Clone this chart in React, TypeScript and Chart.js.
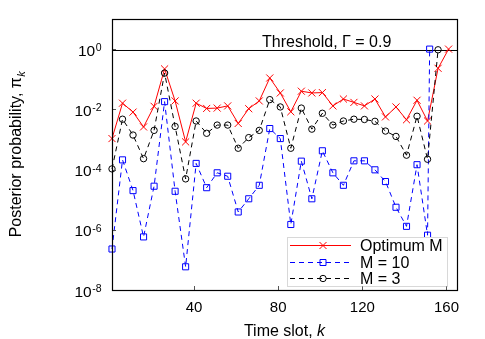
import React, { useEffect, useRef } from "react";
import { Chart, registerables } from "chart.js";

Chart.register(...registerables);

// ---------- data ----------
const slotsOptimum = [1, 6, 11, 16, 21, 26, 31, 36, 41, 46, 51, 56, 61, 66, 71, 76, 81, 86, 91, 96, 101, 106, 111, 116, 121, 126, 131, 136, 141, 146, 151, 156, 161];
const optimumM = [1.07e-3, 1.6e-2, 8.1e-3, 2.6e-3, 1.26e-2, 0.22, 1.9e-2, 8.3e-4, 1.6e-2, 1.07e-2, 1.1e-2, 1.3e-2, 3.4e-3, 1.05e-2, 1.9e-2, 0.11, 3.5e-2, 8.3e-3, 4.0e-2, 3.5e-2, 3.6e-2, 1.3e-2, 2.2e-2, 1.7e-2, 1.3e-2, 2.2e-2, 5.6e-3, 1.2e-2, 4.5e-3, 2.0e-2, 4.1e-3, 0.23, 1.0];

const slotsM10 = [1, 6, 11, 16, 21, 26, 31, 36, 41, 46, 51, 56, 61, 66, 71, 76, 81, 86, 91, 96, 101, 106, 111, 116, 121, 126, 131, 136, 141, 146, 151, 152];
const m10 = [2.3e-7, 2.1e-4, 2.0e-5, 5.8e-7, 2.8e-5, 1.8e-2, 1.9e-5, 5.9e-8, 1.6e-4, 2.5e-5, 7.8e-5, 6.0e-5, 3.9e-6, 1.07e-5, 3.0e-5, 2.3e-3, 1.07e-3, 1.5e-6, 1.9e-4, 1.07e-5, 4.2e-4, 7.8e-5, 3.0e-5, 1.95e-4, 1.95e-4, 9.8e-5, 4.0e-5, 5.6e-6, 1.3e-6, 1.45e-4, 6.6e-7, 1.0];

const slotsM3 = [1, 6, 11, 16, 21, 26, 31, 36, 41, 46, 51, 56, 61, 66, 71, 76, 81, 86, 91, 96, 101, 106, 111, 116, 121, 126, 131, 136, 141, 146, 151, 156];
const m3 = [1.05e-4, 4.7e-3, 1.4e-3, 2.3e-4, 2.0e-3, 0.16, 2.7e-3, 4.9e-5, 4.1e-3, 1.6e-3, 3.0e-3, 3.0e-3, 5.1e-4, 1.15e-3, 2.0e-3, 2.1e-2, 1.2e-2, 5.1e-4, 1.1e-2, 2.2e-3, 7.4e-3, 3.0e-3, 4.1e-3, 4.7e-3, 4.6e-3, 4.0e-3, 1.9e-3, 1.26e-3, 3.0e-4, 5.9e-3, 2.2e-4, 0.95];

const seriesLabels = ["Optimum M", "M = 10", "M = 3"];
const xTicks = [40, 80, 120, 160];
const yTicks = [1e-8, 1e-6, 1e-4, 1e-2, 1];
const yTickExponents = ["-8", "-6", "-4", "-2", "0"];
const xLimits = [1, 165];
const yLimits = [1e-8, 10];
const threshold = 0.9;
const thresholdLabel = "Threshold, \u0393 = 0.9";
const xTitle = "Time slot, ";
const xTitleVar = "k";
const yTitle = "Posterior probability, \u03c0";
const yTitleSub = "k";

// ---------- styles ----------
const FONT = "'Liberation Sans', Arial, Helvetica, sans-serif";
const RED = "#ff0000";
const BLUE = "#0000ff";
const BLACK = "#000000";

type Sty = { color: string; dash: number[]; marker: "cross" | "square" | "circle" };
const legendStyles: Sty[] = [
  { color: RED, dash: [], marker: "cross" },
  { color: BLUE, dash: [5, 4], marker: "square" },
  { color: BLACK, dash: [5, 4], marker: "circle" },
];

function drawMarker(ctx: CanvasRenderingContext2D, kind: string, x: number, y: number, color: string) {
  ctx.save();
  ctx.setLineDash([]);
  ctx.strokeStyle = color;
  ctx.lineWidth = 1;
  ctx.beginPath();
  if (kind === "cross") {
    const r = 3.5;
    ctx.moveTo(x - r, y - r);
    ctx.lineTo(x + r, y + r);
    ctx.moveTo(x - r, y + r);
    ctx.lineTo(x + r, y - r);
  } else if (kind === "square") {
    const r = 3;
    ctx.rect(x - r, y - r, 2 * r, 2 * r);
  } else {
    ctx.arc(x, y, 3.2, 0, Math.PI * 2);
  }
  ctx.stroke();
  ctx.restore();
}

const decorPlugin = {
  id: "decor",
  afterDraw(chart: any) {
    const ctx: CanvasRenderingContext2D = chart.ctx;
    const { left, right, top, bottom } = chart.chartArea;
    const xs = chart.scales.x;
    const ys = chart.scales.y;
    ctx.save();

    // ticks (inside)
    ctx.strokeStyle = "#555";
    ctx.lineWidth = 1;
    ctx.beginPath();
    xTicks.forEach((v) => {
      const px = Math.round(xs.getPixelForValue(v)) + 0.5;
      ctx.moveTo(px, bottom);
      ctx.lineTo(px, bottom - 4);
    });
    yTicks.forEach((v) => {
      const py = Math.round(ys.getPixelForValue(v)) + 0.5;
      ctx.moveTo(left, py);
      ctx.lineTo(left + 4, py);
    });
    ctx.stroke();

    // box
    ctx.strokeStyle = "#000";
    ctx.lineWidth = 1.2;
    ctx.strokeRect(Math.round(left) + 0.5, Math.round(top) + 0.5, Math.round(right - left), Math.round(bottom - top));

    // y tick labels 10^n
    ctx.fillStyle = "#000";
    ctx.textBaseline = "alphabetic";
    ctx.textAlign = "left";
    yTicks.forEach((v, i) => {
      const py = ys.getPixelForValue(v);
      ctx.font = `15.5px ${FONT}`;
      const wb = ctx.measureText("10").width;
      ctx.font = `10.5px ${FONT}`;
      const we = ctx.measureText(yTickExponents[i]).width;
      const xr = left - 11;
      const x0 = xr - wb - we;
      ctx.font = `15.5px ${FONT}`;
      ctx.fillText("10", x0, py + 6.5);
      ctx.font = `10.5px ${FONT}`;
      ctx.fillText(yTickExponents[i], x0 + wb + 0.5, py + 2);
    });

    // x title
    ctx.font = `16px ${FONT}`;
    const w1 = ctx.measureText(xTitle).width;
    ctx.font = `italic 16px ${FONT}`;
    const w2 = ctx.measureText(xTitleVar).width;
    const cx = (left + right) / 2;
    ctx.font = `16px ${FONT}`;
    ctx.fillText(xTitle, cx - (w1 + w2) / 2, 336);
    ctx.font = `italic 16px ${FONT}`;
    ctx.fillText(xTitleVar, cx - (w1 + w2) / 2 + w1, 336);

    // y title (rotated)
    ctx.save();
    ctx.translate(21, (top + bottom) / 2);
    ctx.rotate(-Math.PI / 2);
    ctx.font = `16px ${FONT}`;
    const t1 = ctx.measureText(yTitle).width;
    ctx.font = `italic 11px ${FONT}`;
    const t2 = ctx.measureText(yTitleSub).width;
    ctx.font = `16px ${FONT}`;
    ctx.fillText(yTitle, -(t1 + t2) / 2, 0);
    ctx.font = `italic 11px ${FONT}`;
    ctx.fillText(yTitleSub, -(t1 + t2) / 2 + t1 + 0.5, 4);
    ctx.restore();

    // threshold label
    ctx.font = `16px ${FONT}`;
    ctx.fillText(thresholdLabel, right - 195, ys.getPixelForValue(threshold) - 3);

    // legend
    const lw = 160;
    const lh = 49;
    const lx = right - 10 - lw;
    const ly = bottom - 4 - lh;
    ctx.fillStyle = "#fff";
    ctx.fillRect(lx, ly, lw, lh);
    ctx.strokeStyle = "#b0b0b0";
    ctx.setLineDash([1, 1]);
    ctx.lineWidth = 1;
    ctx.strokeRect(Math.round(lx) + 0.5, Math.round(ly) + 0.5, lw, lh);
    const cy = ly + lh / 2;
    seriesLabels.forEach((lab, i) => {
      const st = legendStyles[i];
      const ry = Math.round(cy + (i - 1) * 16.5) + 0.5;
      ctx.strokeStyle = st.color;
      ctx.setLineDash(st.dash);
      ctx.lineWidth = 1;
      ctx.beginPath();
      ctx.moveTo(lx + 3, ry);
      ctx.lineTo(lx + 64, ry);
      ctx.stroke();
      drawMarker(ctx, st.marker, lx + 36, ry, st.color);
      ctx.setLineDash([]);
      ctx.fillStyle = "#000";
      ctx.font = `16px ${FONT}`;
      ctx.textBaseline = "middle";
      ctx.fillText(lab, lx + 73, ry + 1);
      ctx.textBaseline = "alphabetic";
    });

    ctx.restore();
  },
};

export default function App() {
  const ref = useRef<HTMLCanvasElement>(null);
  useEffect(() => {
    const canvas = ref.current;
    if (!canvas) return;
    const mk = (xs: number[], ys: number[]) => xs.map((x, i) => ({ x, y: ys[i] }));
    const chart = new Chart(canvas, {
      type: "line",
      data: {
        datasets: [
          {
            label: seriesLabels[0],
            data: mk(slotsOptimum, optimumM),
            borderColor: RED,
            borderWidth: 1,
            pointStyle: "crossRot",
            pointRadius: 5,
            pointBorderColor: RED,
            pointBorderWidth: 1,
            pointBackgroundColor: "transparent",
            tension: 0,
            clip: false,
            order: 2,
          },
          {
            label: seriesLabels[1],
            data: mk(slotsM10, m10),
            borderColor: BLUE,
            borderWidth: 1,
            borderDash: [5, 4],
            pointStyle: "rect",
            pointRadius: 4.3,
            pointBorderColor: BLUE,
            pointBorderWidth: 1,
            pointBackgroundColor: "transparent",
            tension: 0,
            clip: false,
            order: 1,
          },
          {
            label: seriesLabels[2],
            data: mk(slotsM3, m3),
            borderColor: BLACK,
            borderWidth: 1,
            borderDash: [5, 4],
            pointStyle: "circle",
            pointRadius: 3.2,
            pointBorderColor: BLACK,
            pointBorderWidth: 1,
            pointBackgroundColor: "transparent",
            tension: 0,
            clip: false,
            order: 0,
          },
          {
            label: "threshold",
            data: [
              { x: xLimits[0], y: threshold },
              { x: xLimits[1], y: threshold },
            ],
            borderColor: BLACK,
            borderWidth: 1,
            pointRadius: 0,
            tension: 0,
            order: 3,
          },
        ],
      },
      options: {
        responsive: false,
        animation: false,
        events: [],
        layout: { padding: { left: 0, top: 19, right: 28, bottom: 0 } },
        plugins: { legend: { display: false }, tooltip: { enabled: false } },
        scales: {
          x: {
            type: "linear",
            min: xLimits[0],
            max: xLimits[1],
            afterBuildTicks: (s: any) => {
              s.ticks = xTicks.map((v) => ({ value: v }));
            },
            afterFit: (s: any) => {
              s.height = 49;
            },
            grid: { display: false, drawTicks: false },
            border: { display: false },
            ticks: {
              color: "#000",
              font: { family: FONT, size: 15 },
              padding: 9,
              maxRotation: 0,
              autoSkip: false,
            },
          },
          y: {
            type: "logarithmic",
            min: yLimits[0],
            max: yLimits[1],
            afterFit: (s: any) => {
              s.width = 112;
            },
            ticks: { display: false },
            grid: { display: false },
            border: { display: false },
          },
        },
      } as any,
      plugins: [decorPlugin],
    });
    return () => chart.destroy();
  }, []);
  return (
    <div style={{ position: "absolute", left: 0, top: 0, width: 485, height: 339, background: "#fff" }}>
      <canvas ref={ref} width={485} height={339} style={{ display: "block", width: 485, height: 339 }} />
    </div>
  );
}
